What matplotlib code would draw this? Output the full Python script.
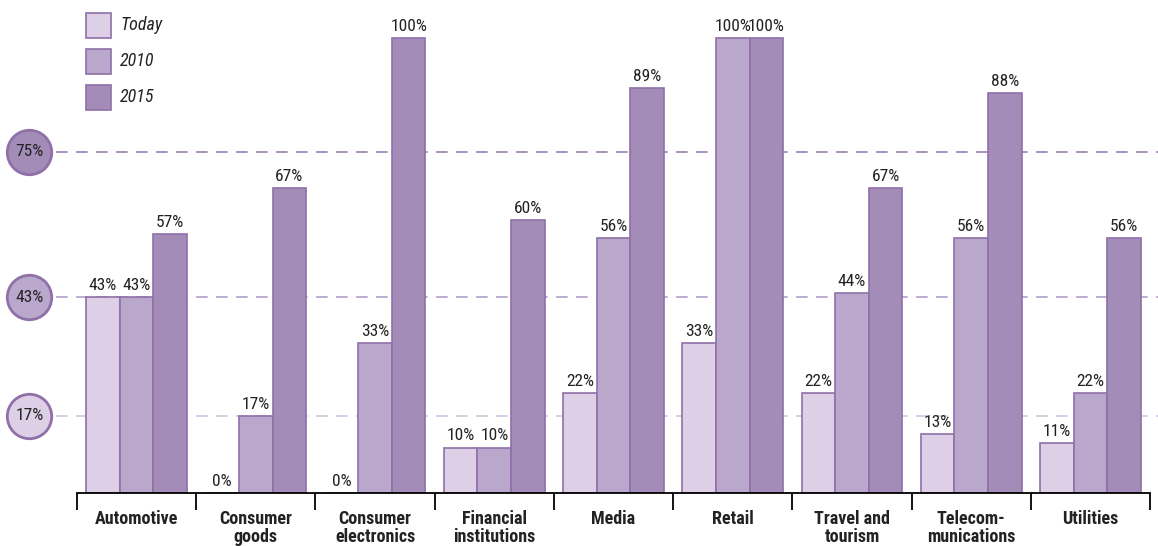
import matplotlib
matplotlib.use('Agg')
import matplotlib.pyplot as plt
from matplotlib.patches import Rectangle
import matplotlib.transforms as mtransforms
import numpy as np

plt.rcParams['font.family'] = ['Roboto Condensed', 'DejaVu Sans']

categories = ['Automotive', 'Consumer\ngoods', 'Consumer\nelectronics', 'Financial\ninstitutions',
              'Media', 'Retail', 'Travel and\ntourism', 'Telecom-\nmunications', 'Utilities']
series_names = ['Today', '2010', '2015']
today = [43, 0, 0, 10, 22, 33, 22, 13, 11]
y2010 = [43, 17, 33, 10, 56, 100, 44, 56, 22]
y2015 = [57, 67, 100, 60, 89, 100, 67, 88, 56]
ref_lines = [75, 43, 17]

colors = ['#dccfe6', '#b9a8cc', '#a48cb8']
edge = '#8f70a8'
line_cols = ['#9b80b3', '#b29fc8', '#d2c4e0']

fig = plt.figure(figsize=(11.58, 5.46), dpi=100)
ax = fig.add_axes([77 / 1158, 53 / 546, 1073 / 1158, 493 / 546])

x = np.arange(len(categories))
w = 0.282
all_series = [today, y2010, y2015]
for k, vals in enumerate(all_series):
    pos = x + (k - 1) * w
    ax.bar(pos, vals, width=w, color=colors[k], edgecolor=edge, linewidth=1.2, zorder=2)
    for p, v in zip(pos, vals):
        ax.annotate(f'{v}%', (p, v), xytext=(0, 3), textcoords='offset points',
                    ha='center', va='bottom', fontsize=12.5, color='#222222')

ax.set_xlim(-0.5, len(categories) - 0.5)
ax.set_ylim(0, 108.4)

# dashed reference lines + circle badges on the left
blend = mtransforms.blended_transform_factory(ax.transAxes, ax.transData)
for v, c, fc in zip(ref_lines, line_cols, colors[::-1]):
    ax.axhline(v, xmin=-0.02, xmax=1.01, color=c, linestyle=(0, (7, 5)), linewidth=1.2,
               clip_on=False, zorder=1)
    ax.plot([-0.0443], [v], marker='o', markersize=32, markerfacecolor=fc,
            markeredgecolor=edge, markeredgewidth=2, transform=blend, clip_on=False, zorder=5)
    ax.text(-0.0443, v, f'{v}%', transform=blend, ha='center', va='center',
            fontsize=12.5, color='#222222', zorder=6)

for s in ['top', 'right', 'left']:
    ax.spines[s].set_visible(False)
ax.spines['bottom'].set_linewidth(1.3)
ax.set_yticks([])
ax.set_xticks(x)
ax.set_xticklabels(categories, fontsize=13, fontweight='bold', linespacing=1.0, color='#222222')
ax.tick_params(axis='x', which='major', length=0, pad=12)
ax.set_xticks(np.arange(len(categories) + 1) - 0.5, minor=True)
ax.tick_params(axis='x', which='minor', length=12, width=1.3, direction='out')

# legend drawn by hand
for k, name in enumerate(series_names):
    top = 13 + k * 36
    fig.patches.append(Rectangle((86 / 1158, 1 - (top + 25) / 546), 25 / 1158, 25 / 546,
                                 transform=fig.transFigure, facecolor=colors[k],
                                 edgecolor=edge, linewidth=1.2))
    fig.text(120 / 1158, 1 - (top + 12.5) / 546, name, fontsize=13, style='italic',
             va='center', ha='left', color='#222222')

fig.savefig('out.png', dpi=100)
